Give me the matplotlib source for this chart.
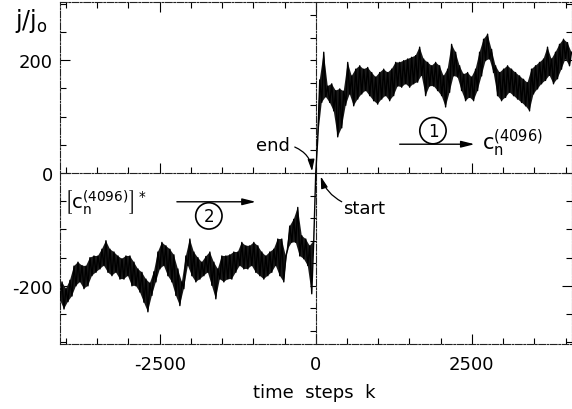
import numpy as np
import matplotlib
matplotlib.use('Agg')
import matplotlib.pyplot as plt
from matplotlib.ticker import MultipleLocator, FixedLocator

plt.rcParams['font.family'] = ['DejaVu Sans']
plt.rcParams['axes.unicode_minus'] = False
plt.rcParams['mathtext.fontset'] = 'dejavusans'

# ---- data (j/j0 versus time step k) ----
# forward run (k >= 0): upper readings at k = 0, 64, ..., 4096
right_upper = [0, 165, 214, 154, 158, 146, 149, 145,
               196, 172, 184, 190, 184, 187, 178, 170,
               178, 184, 178, 184, 196, 196, 199, 202,
               205, 208, 223, 202, 196, 190, 196, 190,
               172, 184, 228, 214, 190, 175, 178, 170,
               184, 214, 237, 246, 219, 190, 178, 184,
               190, 184, 178, 172, 166, 160, 184, 190,
               196, 202, 223, 202, 214, 228, 237, 231,
               214]
# forward run: lower readings at k = 32, 96, ..., 4064
right_lower = [60, 125, 135, 125, 110, 64, 80, 120,
               140, 119, 131, 140, 146, 137, 128, 122,
               131, 137, 128, 137, 154, 152, 158, 152,
               158, 161, 173, 137, 154, 154, 146, 137,
               117, 143, 172, 170, 146, 128, 134, 128,
               146, 172, 199, 202, 178, 137, 128, 134,
               143, 137, 131, 125, 119, 110, 140, 149,
               158, 164, 173, 158, 167, 184, 202, 190]
# backward run (k <= 0): lower readings at k = -4096, -4032, ..., 0
left_lower = [-225, -241, -228, -218, -200, -193, -205, -200,
              -182, -176, -170, -164, -176, -182, -176, -188,
              -188, -182, -200, -200, -211, -229, -246, -217,
              -193, -170, -164, -182, -193, -217, -235, -205,
              -164, -182, -193, -188, -182, -176, -199, -223,
              -188, -193, -188, -188, -176, -164, -170, -170,
              -164, -176, -182, -188, -182, -176, -164, -182,
              -193, -135, -123, -123, -147, -152, -164, -214,
              0]
# backward run: upper readings at k = -4064, -4000, ..., -32
left_upper = [-193, -205, -190, -165, -158, -164, -165, -150,
              -147, -147, -135, -120, -135, -140, -147, -152,
              -147, -147, -158, -170, -176, -188, -195, -175,
              -140, -123, -129, -135, -145, -170, -193, -147,
              -117, -140, -150, -158, -148, -140, -158, -170,
              -147, -147, -145, -140, -140, -123, -129, -129,
              -123, -129, -140, -147, -140, -135, -117, -117,
              -147, -94, -82, -61, -111, -117, -129, -120]

k_right_upper = np.arange(0, 4097, 64)
k_right_lower = np.arange(32, 4096, 64)
k_left_lower = np.arange(-4096, 1, 64)
k_left_upper = np.arange(-4064, 0, 64)

k_right = np.empty(len(k_right_upper) + len(k_right_lower))
j_right = np.empty_like(k_right)
k_right[0::2], k_right[1::2] = k_right_upper, k_right_lower
j_right[0::2], j_right[1::2] = right_upper, right_lower

k_left = np.empty(len(k_left_lower) + len(k_left_upper))
j_left = np.empty_like(k_left)
k_left[0::2], k_left[1::2] = k_left_lower, k_left_upper
j_left[0::2], j_left[1::2] = left_lower, left_upper

k_all = np.concatenate([k_left, k_right[1:]])
j_all = np.concatenate([j_left, j_right[1:]])

# band polygons (upper readings forward, lower readings back)
band_r_k = np.concatenate([k_right_upper, k_right_lower[::-1]])
band_r_j = np.concatenate([right_upper, right_lower[::-1]])
band_l_k = np.concatenate([k_left_upper, k_left_lower[::-1]])
band_l_j = np.concatenate([left_upper, left_lower[::-1]])

x_major = [-2500, 0, 2500]
y_major = [-200, 0, 200]

# ---- figure ----
fig = plt.figure(figsize=(5.72, 4.10), dpi=100)
rect = [60 / 572, 1 - 345 / 410, 511.5 / 572, 342 / 410]
ax = fig.add_axes(rect)
ax.set_xlim(-4096, 4096)
ax.set_ylim(-303, 303)

frame_ls = (0, (6, 1.5, 1.5, 1.5))
for sp in ax.spines.values():
    sp.set_linewidth(0.8)
    sp.set_linestyle(frame_ls)
    sp.set_color('#222222')

ax.xaxis.set_major_locator(FixedLocator(x_major))
ax.xaxis.set_minor_locator(MultipleLocator(500))
ax.yaxis.set_major_locator(FixedLocator(y_major))
ax.yaxis.set_minor_locator(MultipleLocator(50))
ax.tick_params(which='both', direction='in', top=True, right=True, width=0.8)
ax.tick_params(which='major', length=7)
ax.tick_params(which='minor', length=4)
ax.tick_params(axis='y', which='major', pad=5, labelsize=13)
ax.tick_params(axis='x', which='major', pad=8, labelsize=13)

# central cross axes
axc = fig.add_axes(rect, facecolor='none')
axc.set_xlim(-4096, 4096)
axc.set_ylim(-303, 303)
axc.spines['left'].set_position(('data', 0))
axc.spines['bottom'].set_position(('data', 0))
axc.spines['top'].set_visible(False)
axc.spines['right'].set_visible(False)
for name in ('left', 'bottom'):
    axc.spines[name].set_linewidth(0.8)
    axc.spines[name].set_linestyle(frame_ls)
    axc.spines[name].set_color('#222222')
axc.xaxis.set_major_locator(FixedLocator([-2500, 2500]))
axc.xaxis.set_minor_locator(MultipleLocator(500))
axc.yaxis.set_major_locator(MultipleLocator(40))
axc.tick_params(axis='x', which='both', direction='in', labelbottom=False, width=0.8)
axc.tick_params(axis='x', which='major', length=7)
axc.tick_params(axis='x', which='minor', length=4)
axc.tick_params(axis='y', which='both', direction='out', labelleft=False, length=4, width=0.8)

# trace
axc.fill(band_r_k, band_r_j, color='#1a1a1a', lw=0, zorder=4)
axc.fill(band_l_k, band_l_j, color='#1a1a1a', lw=0, zorder=4)
axc.plot(k_all, j_all, color='black', lw=1.0, zorder=5)

# labels
fig.text(15 / 572, 1 - 21 / 410, r'$\mathregular{j/j_o}$', fontsize=17,
         ha='left', va='center')
fig.text(314 / 572, 1 - 393 / 410, 'time  steps  k', fontsize=13,
         ha='center', va='center')

# annotations
axc.text(-690, 50, 'end', ha='center', va='center', fontsize=13)
axc.annotate('', xy=(-60, 3), xytext=(-336, 46),
             arrowprops=dict(arrowstyle='-|>,head_length=0.7,head_width=0.2',
                             connectionstyle='arc3,rad=-0.3', lw=0.9,
                             color='k', shrinkA=0, shrinkB=0))
axc.text(768, -62, 'start', ha='center', va='center', fontsize=13)
axc.annotate('', xy=(80, -6), xytext=(416, -51),
             arrowprops=dict(arrowstyle='-|>,head_length=0.7,head_width=0.2',
                             connectionstyle='arc3,rad=-0.2', lw=0.9,
                             color='k', shrinkA=0, shrinkB=0))

circ = dict(boxstyle='circle,pad=0.25', fc='white', ec='k', lw=1.2)
axc.text(1877, 75, '1', bbox=circ, ha='center', va='center', fontsize=12)
axc.annotate('', xy=(2544, 51), xytext=(1344, 51),
             arrowprops=dict(arrowstyle='-|>,head_length=0.8,head_width=0.2',
                             lw=1, color='k', shrinkA=0, shrinkB=0))
axc.text(2656, 42, r'$\mathrm{c}_\mathrm{n}^{(4096)}$', ha='left',
         va='baseline', fontsize=15)

axc.text(-1712, -76, '2', bbox=circ, ha='center', va='center', fontsize=12)
axc.annotate('', xy=(-960, -51), xytext=(-2224, -51),
             arrowprops=dict(arrowstyle='-|>,head_length=0.8,head_width=0.2',
                             lw=1, color='k', shrinkA=0, shrinkB=0))
axc.text(-3376, -51, r'$\left[\mathrm{c}_\mathrm{n}^{(4096)}\right]^*$',
         ha='center', va='center', fontsize=14)

fig.savefig('out.png', dpi=100)
